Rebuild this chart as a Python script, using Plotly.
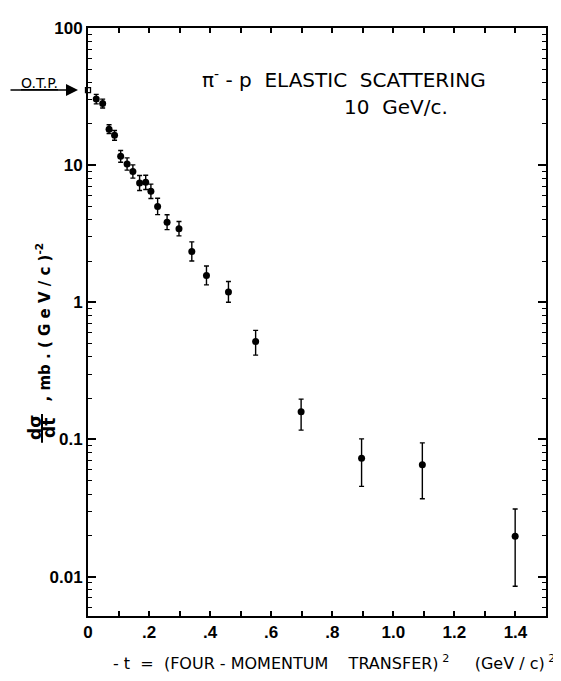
import plotly.graph_objects as go

# ---- data ----
t_vals = [0.027, 0.048, 0.069, 0.087, 0.107, 0.128, 0.147, 0.169, 0.189, 0.206,
          0.228, 0.259, 0.298, 0.340, 0.388, 0.460, 0.549, 0.698, 0.896, 1.095, 1.399]
dsdt = [30.3, 28.1, 18.3, 16.5, 11.6, 10.2, 9.0, 7.4, 7.5, 6.44,
        5.0, 3.84, 3.44, 2.35, 1.57, 1.19, 0.517, 0.159, 0.073, 0.0655, 0.0197]
err_up = [2.5, 2.2, 1.4, 1.4, 1.2, 1.1, 1.05, 1.0, 0.95, 0.83,
          0.74, 0.51, 0.44, 0.41, 0.27, 0.23, 0.107, 0.038, 0.028, 0.029, 0.0114]
err_down = [2.3, 2.0, 1.3, 1.3, 1.1, 1.0, 0.95, 0.86, 0.85, 0.73,
            0.64, 0.45, 0.39, 0.35, 0.23, 0.19, 0.105, 0.042, 0.0275, 0.0285, 0.0112]
otp_t = [0.0]
otp_val = [35.2]

x_tickvals = [0.0, 0.1, 0.2, 0.3, 0.4, 0.5, 0.6, 0.7, 0.8, 0.9, 1.0, 1.1, 1.2, 1.3, 1.4, 1.5]
x_ticktext = ["0", "", ".2", "", ".4", "", ".6", "", ".8", "", "1.0", "", "1.2", "", "1.4", ""]
y_tickvals = [0.01, 0.1, 1, 10, 100]
y_ticktext = ["0.01", "0.1", "1", "10", "100"]
y_minor_vals = [m * d for d in (0.001, 0.01, 0.1, 1, 10) for m in range(2, 10)]

# ---- geometry (pixels of the 561x681 page; the page body has an 8px margin) ----
W_PAGE, H_PAGE = 561, 681
BODY = 8
L, R, T, B = 88, 546, 19, 616   # plot frame in page pixels
FIG_W, FIG_H = W_PAGE - BODY, H_PAGE - BODY


def px(x):
    return (x - L) / (R - L)


def py(y):
    return (B - y) / (B - T)


fig = go.Figure()

fig.add_trace(go.Scatter(
    x=t_vals, y=dsdt, mode="markers",
    marker=dict(symbol="circle", size=7, color="black"),
    error_y=dict(type="data", symmetric=False, array=err_up, arrayminus=err_down,
                 color="black", thickness=1.4, width=2.5),
    showlegend=False, cliponaxis=False,
))
fig.add_trace(go.Scatter(
    x=otp_t, y=otp_val, mode="markers",
    marker=dict(symbol="square-open", size=5, color="black", line=dict(width=1.3)),
    showlegend=False, cliponaxis=False,
))

tickfont = dict(family="Liberation Sans Narrow, Liberation Sans, Arial", size=17,
                color="black", weight="bold")

fig.update_xaxes(
    range=[0, 1.5], tickvals=x_tickvals, ticktext=x_ticktext,
    ticks="inside", ticklen=5, tickwidth=1.5, tickcolor="black",
    showline=True, linecolor="black", linewidth=2, mirror="allticks",
    showgrid=False, zeroline=False, tickfont=tickfont,
)
fig.update_yaxes(
    type="log", range=[-2.287, 2.0], tickvals=y_tickvals, ticktext=y_ticktext,
    ticks="inside", ticklen=8, tickwidth=1.5, tickcolor="black",
    showline=True, linecolor="black", linewidth=2, mirror="allticks",
    showgrid=False, zeroline=False, tickfont=tickfont,
    minor=dict(tickvals=y_minor_vals, ticks="inside", ticklen=4, tickwidth=1.3,
               tickcolor="black", showgrid=False),
)

lab = dict(family="DejaVu Sans", color="black")
ann = []
# title lines
ann.append(dict(x=px(344), y=py(71), xref="paper", yref="paper", showarrow=False,
                text="\u03c0<sup>-</sup>\u00a0-\u00a0p\u00a0\u00a0ELASTIC\u00a0\u00a0SCATTERING",
                font=dict(size=20, **lab), xanchor="center", yanchor="middle"))
ann.append(dict(x=px(396), y=py(99), xref="paper", yref="paper", showarrow=False,
                text="10\u00a0\u00a0GeV/c.",
                font=dict(size=20, **lab), xanchor="center", yanchor="middle"))
# O.T.P. label and arrow
ann.append(dict(x=px(39), y=py(75), xref="paper", yref="paper", showarrow=False,
                text="<u>O.T.P.</u>", font=dict(size=14, **lab),
                xanchor="center", yanchor="middle"))
ann.append(dict(x=px(78), y=py(82), xref="paper", yref="paper", text="",
                showarrow=True, ax=-69, ay=0, arrowhead=2, arrowsize=1.6,
                arrowwidth=1.5, arrowcolor="black"))
# x-axis title
ann.append(dict(x=px(334), y=py(663), xref="paper", yref="paper", showarrow=False,
                text="-\u00a0t\u00a0\u00a0=\u00a0\u00a0(FOUR\u00a0-\u00a0MOMENTUM\u00a0\u00a0\u00a0\u00a0TRANSFER)<sup>\u00a02</sup>"
                     "\u00a0\u00a0\u00a0\u00a0\u00a0(GeV\u00a0/\u00a0c)<sup>\u00a02</sup>",
                font=dict(size=16, **lab), xanchor="center", yanchor="middle"))
# y-axis title: fraction d sigma / dt
ann.append(dict(x=px(35), y=py(425), xref="paper", yref="paper", showarrow=False,
                text="<b>d\u03c3</b>", textangle=-90,
                font=dict(size=17, **lab), xanchor="center", yanchor="middle"))
ann.append(dict(x=px(49), y=py(425), xref="paper", yref="paper", showarrow=False,
                text="<b>dt</b>", textangle=-90,
                font=dict(size=17, **lab), xanchor="center", yanchor="middle"))
ann.append(dict(x=px(44), y=py(318), xref="paper", yref="paper", showarrow=False,
                text="<b>,\u00a0mb\u00a0.\u00a0(\u00a0G\u00a0e\u00a0V\u00a0/\u00a0c\u00a0)<sup>-2</sup></b>",
                textangle=-90, font=dict(size=15, **lab),
                xanchor="center", yanchor="middle"))

shapes = [dict(type="line", xref="paper", yref="paper",
               x0=px(42), x1=px(42), y0=py(411), y1=py(440),
               line=dict(color="black", width=2))]

fig.update_layout(
    width=FIG_W, height=FIG_H,
    margin=dict(l=L - BODY, r=W_PAGE - R, t=T - BODY, b=H_PAGE - B, pad=0),
    paper_bgcolor="white", plot_bgcolor="white",
    annotations=ann, shapes=shapes,
    font=dict(family="DejaVu Sans", color="black"),
)

fig.write_html("out.html")
